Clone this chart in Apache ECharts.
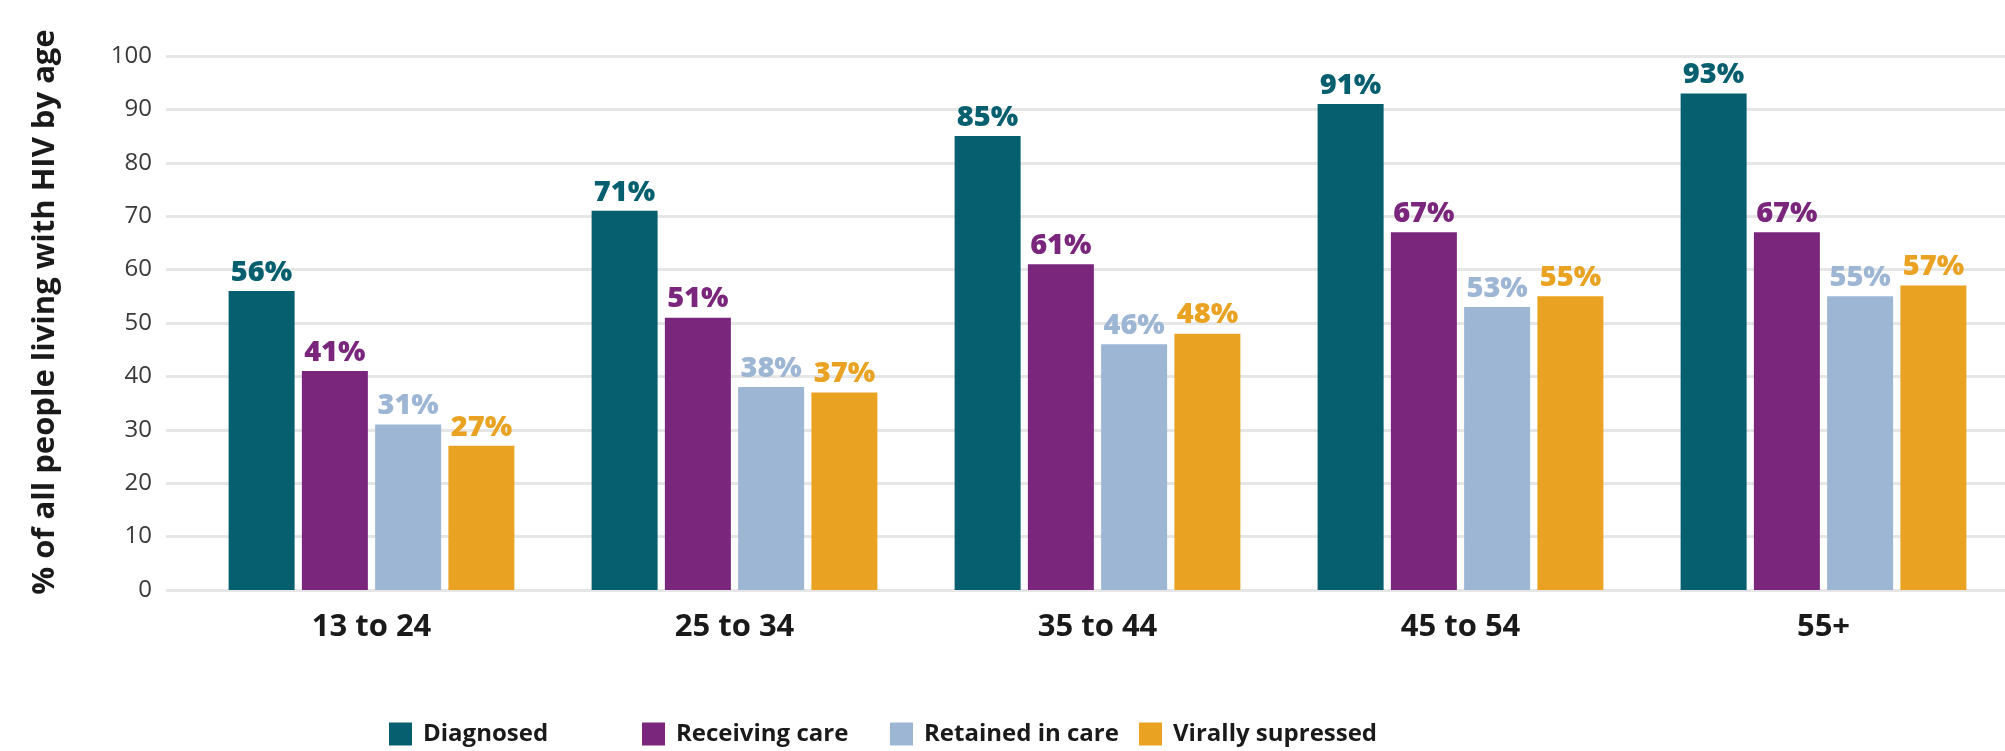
<!DOCTYPE html>
<html>
<head>
<meta charset="utf-8">
<title>HIV care continuum by age</title>
<script src="https://cdn.jsdelivr.net/npm/echarts@6/dist/echarts.min.js"></script>
<style>
    html, body { margin: 0; padding: 0; background: #fff; }
    #chart { width: 2005px; height: 751px; }
</style>
</head>
<body>
<div id="chart"></div>
<script>
const ageGroups = ['13 to 24', '25 to 34', '35 to 44', '45 to 54', '55+'];
const diagnosed = [56, 71, 85, 91, 93];
const receivingCare = [41, 51, 61, 67, 67];
const retainedInCare = [31, 38, 46, 53, 55];
const virallySupressed = [27, 37, 48, 55, 57];
const yTicks = [0, 10, 20, 30, 40, 50, 60, 70, 80, 90, 100];

const FONT = '"Open Sans", "DejaVu Sans", sans-serif';

const seriesDefs = [
    { name: 'Diagnosed', data: diagnosed, color: '#065f6f' },
    { name: 'Receiving care', data: receivingCare, color: '#7a267c' },
    { name: 'Retained in care', data: retainedInCare, color: '#9db6d4' },
    { name: 'Virally supressed', data: virallySupressed, color: '#e9a222' },
];

// one legend per item so each sits where the original put it
const legendLefts = [384, 637, 885, 1134];

const yScale = {
    type: 'value',
    min: yTicks[0],
    max: yTicks[yTicks.length - 1],
    interval: yTicks[1] - yTicks[0],
};

const chart = echarts.init(document.getElementById('chart'), null, { renderer: 'canvas' });

chart.setOption({
    animation: false,
    backgroundColor: '#ffffff',
    // grid 0 holds the bars (its right edge runs off the canvas, as in the original);
    // grid 1 only draws the wider gridlines behind it
    grid: [
        { left: 190, top: 56, width: 1837, height: 534 },
        { left: 166, top: 56, right: 0, height: 534 },
    ],
    graphic: [{
        type: 'text',
        x: 45,
        y: 312,
        rotation: Math.PI / 2,
        style: {
            text: '% of all people living with HIV by age',
            align: 'center',
            verticalAlign: 'middle',
            fontFamily: FONT, fontWeight: 'bold', fontSize: 31, fill: '#1a1a1a',
        },
    }],
    legend: seriesDefs.map((s, i) => ({
        data: [s.name],
        left: legendLefts[i],
        top: 717,
        itemWidth: 23,
        itemHeight: 23,
        icon: 'rect',
        textStyle: {
            fontFamily: FONT, fontWeight: 'bold', fontSize: 24, color: '#1a1a1a',
            padding: [0, 0, 0, 6],
        },
        selectedMode: false,
    })),
    xAxis: [{
        type: 'category',
        gridIndex: 0,
        data: ageGroups,
        axisLine: { show: false },
        axisTick: { show: false },
        axisLabel: {
            margin: 22,
            fontFamily: FONT, fontWeight: 'bold', fontSize: 31, color: '#1a1a1a',
        },
    }, {
        type: 'value',
        gridIndex: 1,
        show: false,
    }],
    yAxis: [{
        ...yScale,
        gridIndex: 0,
        axisLine: { show: false },
        axisTick: { show: false },
        axisLabel: {
            margin: 38,
            fontFamily: FONT, fontSize: 24, color: '#3a3a3a',
        },
        splitLine: { show: false },
    }, {
        ...yScale,
        gridIndex: 1,
        axisLine: { show: false },
        axisTick: { show: false },
        axisLabel: { show: false },
        splitLine: { lineStyle: { color: '#e6e6e6', width: 3 } },
    }],
    series: seriesDefs.map(s => ({
        type: 'bar',
        name: s.name,
        data: s.data,
        xAxisIndex: 0,
        yAxisIndex: 0,
        barWidth: 66,
        barGap: '11%',
        z: 3,
        itemStyle: { color: s.color },
        label: {
            show: true,
            position: 'top',
            distance: 4,
            formatter: '{c}%',
            fontFamily: FONT, fontWeight: 800, fontSize: 29, color: s.color,
        },
    })),
});
</script>
</body>
</html>
